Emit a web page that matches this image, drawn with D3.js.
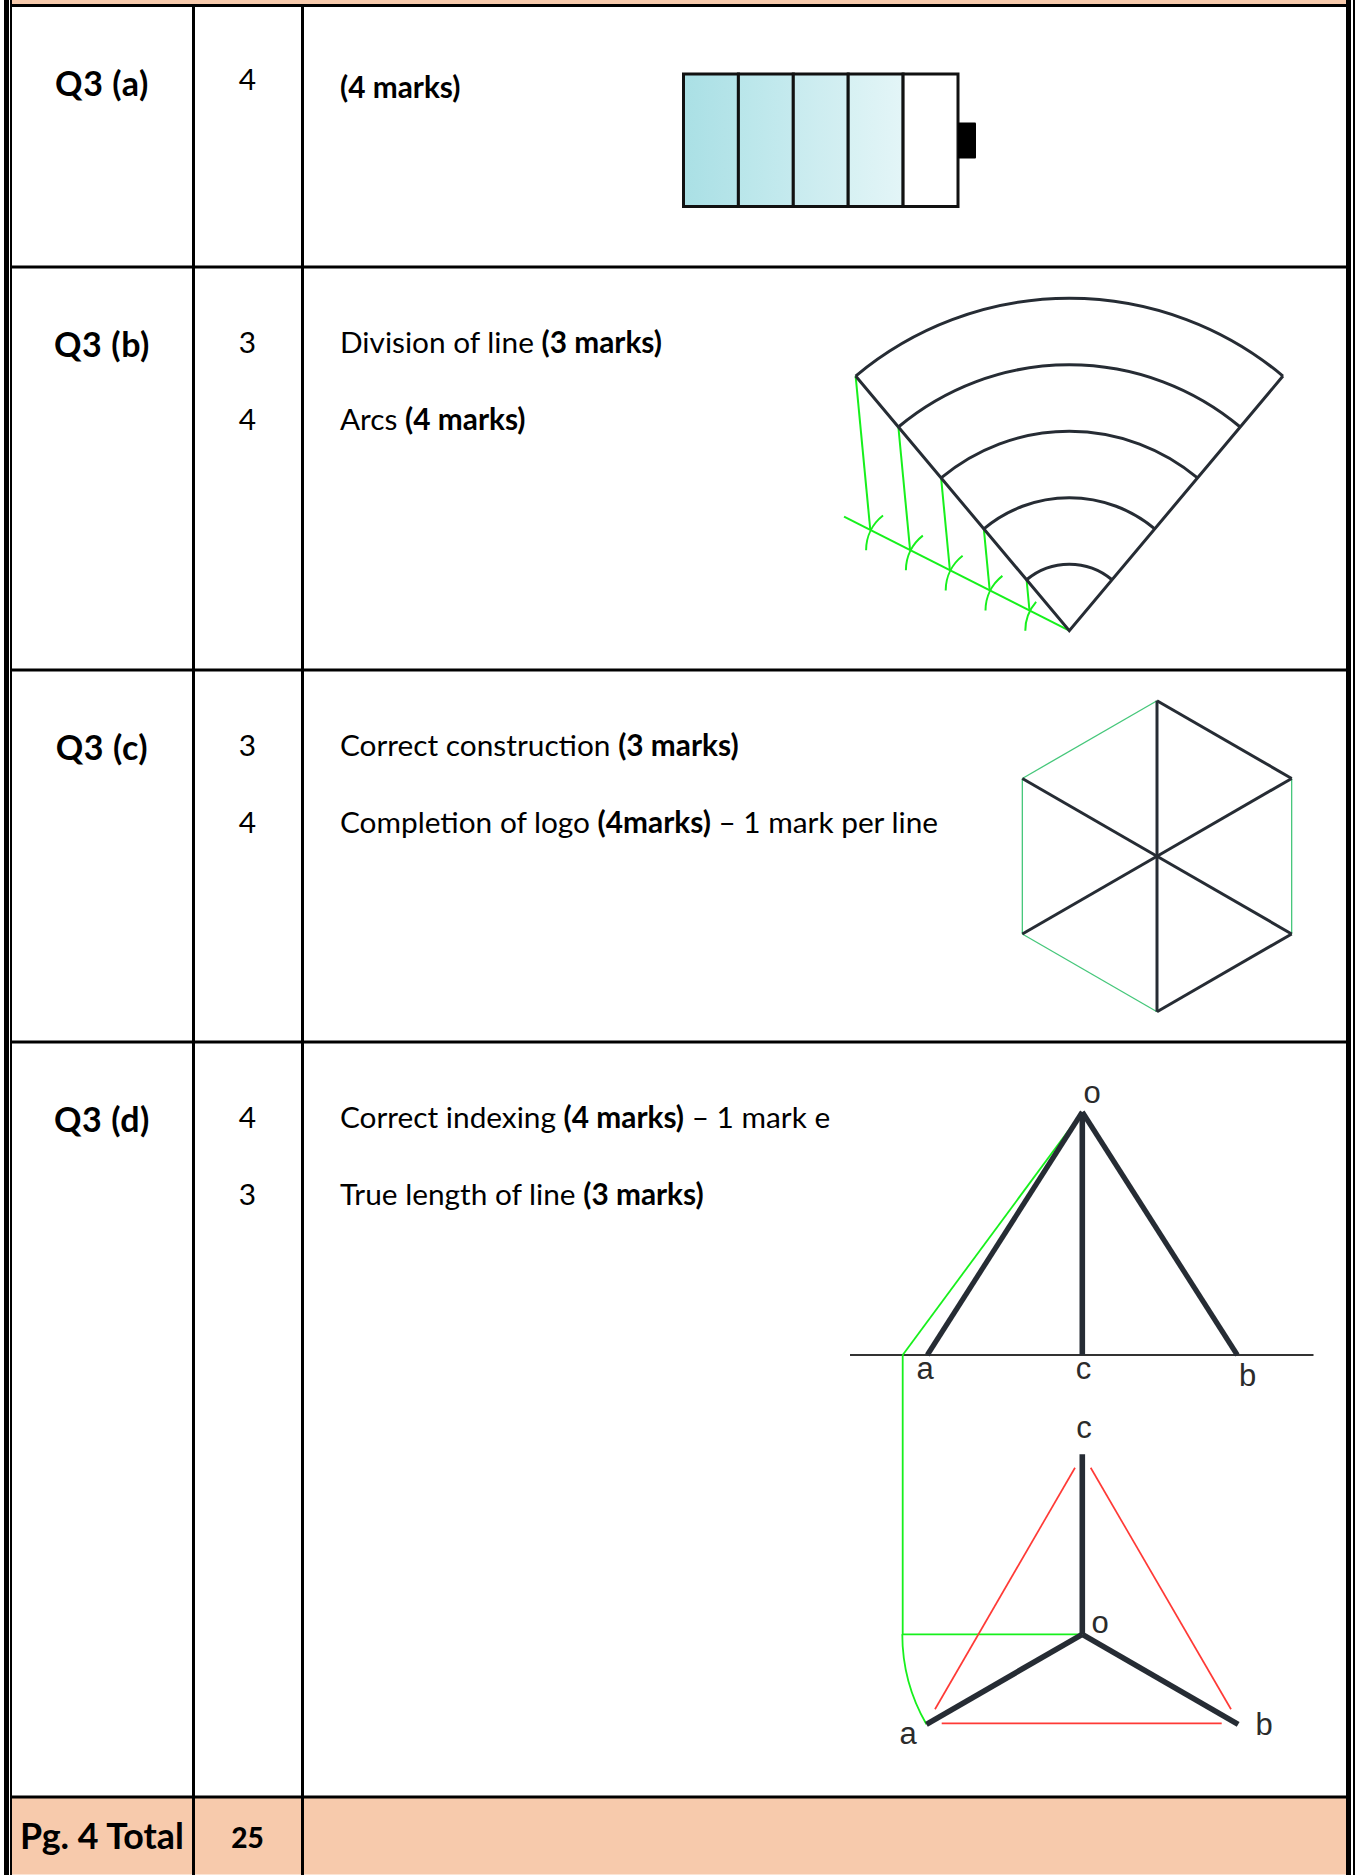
<!DOCTYPE html>
<html>
<head>
<meta charset="utf-8">
<script src="https://cdn.jsdelivr.net/npm/d3@7"></script>
<style>
  html, body { margin: 0; padding: 0; background: #fff; }
  svg { display: block; }
  text { font-family: Lato, "Open Sans", sans-serif; fill: #000; }
</style>
</head>
<body>
<svg id="sheet" width="1356" height="1875"></svg>
<script>
// table content
const questions = ["Q3 (a)", "Q3 (b)", "Q3 (c)", "Q3 (d)"];
const marks = [[4], [3, 4], [3, 4], [4, 3]];
const descriptions = [
  [[["(4 marks)", true]]],
  [[["Division of line ", false], ["(3 marks)", true]],
   [["Arcs ", false], ["(4 marks)", true]]],
  [[["Correct construction ", false], ["(3 marks)", true]],
   [["Completion of logo ", false], ["(4marks)", true], [" \u2013 1 mark per line", false]]],
  [[["Correct indexing ", false], ["(4 marks)", true], [" \u2013 1 mark e", false]],
   [["True length of line ", false], ["(3 marks)", true]]]
];
const totalLabel = "Pg. 4 Total";
const totalMarks = 25;

// diagram values
const batteryCells = [0, 1, 2, 3, 4];
const batteryCharged = 4;
const fanDivisions = [1, 2, 3, 4, 5];
const fanAngle = 40;
const compassEnds = [-49, -38, -38, -38, -38];
const hexAngles = [0, 60, 120, 180, 240, 300];
const hexDarkEdges = [[0, 60], [120, 180]];
const hexGreenEdges = [[60, 120], [180, 240], [240, 300], [300, 360]];
const elevationPoints = ["a", "c", "b"];
const elevationValues = [-155, 0, 155];
const planAngles = [0, 120, 240];
const labelsElevation = ["o", "a", "c", "b"];
const labelsPlan = ["c", "o", "a", "b"];

const svg = d3.select("#sheet");
const ink = "#262c34";
const green = "#17f01c";
const peach = "#f7caac";

// ---- table frame
const columnLines = [193.5, 302.5];
const rowLines = [5.5, 267, 670, 1042, 1797];
const rowFirstBaseline = [0, 352.5, 755.5, 1127.5];
const rowLabelBaseline = [95.5, 357, 760, 1132];
const lineGap = 77.5;

svg.append("rect").attr("x", 12).attr("y", 0).attr("width", 1334).attr("height", 4).attr("fill", peach);
svg.append("rect").attr("x", 12).attr("y", 1798).attr("width", 1334).attr("height", 76.5).attr("fill", peach);

svg.selectAll(".row-line")
  .data(rowLines)
  .enter()
  .append("line")
  .attr("x1", 10)
  .attr("x2", 1346)
  .attr("y1", (d) => d)
  .attr("y2", (d) => d)
  .attr("stroke", "#000")
  .attr("stroke-width", 3);

svg.selectAll(".col-line")
  .data(columnLines)
  .enter()
  .append("line")
  .attr("x1", (d) => d)
  .attr("x2", (d) => d)
  .attr("y1", 5)
  .attr("y2", 1875)
  .attr("stroke", "#000")
  .attr("stroke-width", 3);

// double outer border
[[4, 5], [10, 2], [1346, 5], [1353, 2]].forEach(([x, w]) => {
  svg.append("rect").attr("x", x).attr("y", 0).attr("width", w).attr("height", 1875).attr("fill", "#000");
});

// ---- table text
const labelSize = 34;
const bodySize = 29.8;

svg.selectAll(".question")
  .data(questions)
  .enter()
  .append("text")
  .attr("x", 102)
  .attr("y", (d, i) => rowLabelBaseline[i])
  .attr("text-anchor", "middle")
  .attr("font-size", labelSize)
  .attr("font-weight", 700)
  .attr("letter-spacing", 0.6)
  .text((d) => d);

marks.forEach((rowMarks, r) => {
  rowMarks.forEach((m, i) => {
    svg.append("text")
      .attr("x", 247.5)
      .attr("y", (r === 0 ? 90 : rowFirstBaseline[r]) + i * lineGap)
      .attr("text-anchor", "middle")
      .attr("font-size", bodySize)
      .text(m);
  });
});

descriptions.forEach((rowText, r) => {
  rowText.forEach((segments, i) => {
    const line = svg.append("text")
      .attr("x", 340)
      .attr("y", (r === 0 ? 97.5 : rowFirstBaseline[r]) + i * lineGap)
      .attr("font-size", bodySize)
      .style("white-space", "pre");
    segments.forEach(([txt, bold]) => {
      line.append("tspan").attr("font-weight", bold ? 700 : 400).text(txt);
    });
  });
});

svg.append("text").attr("x", 102).attr("y", 1849).attr("text-anchor", "middle")
  .attr("font-size", 35.8).attr("font-weight", 700).text(totalLabel);
svg.append("text").attr("x", 247.5).attr("y", 1848).attr("text-anchor", "middle")
  .attr("font-size", 28).attr("font-weight", 900).text(totalMarks);

// ---- battery
const batteryX = d3.scaleLinear().domain([0, batteryCells.length]).range([683.5, 958]);
const batteryTop = 74;
const batteryHeight = 132.5;
const chargeColor = d3.scaleLinear().domain([0, batteryCharged]).range(["#aae0e5", "#e6f6f8"]);

const cellGradients = svg.append("defs").selectAll("linearGradient")
  .data(batteryCells.filter((d) => d < batteryCharged))
  .enter()
  .append("linearGradient")
  .attr("id", (d) => `cell${d}`);
cellGradients.append("stop").attr("offset", 0).attr("stop-color", (d) => chargeColor(d));
cellGradients.append("stop").attr("offset", 1).attr("stop-color", (d) => chargeColor(d + 0.8));

svg.selectAll(".cell")
  .data(batteryCells)
  .enter()
  .append("rect")
  .attr("x", (d) => batteryX(d))
  .attr("y", batteryTop)
  .attr("width", batteryX(1) - batteryX(0))
  .attr("height", batteryHeight)
  .attr("fill", (d) => (d < batteryCharged ? `url(#cell${d})` : "#fff"))
  .attr("stroke", "#111")
  .attr("stroke-width", 3);

svg.append("rect")
  .attr("x", 958).attr("y", 122.5).attr("width", 18).attr("height", 36)
  .attr("rx", 1).attr("fill", "#000");

// ---- fan of arcs
const fanApex = [1069.3, 630.7];
const fanRadius = d3.scaleLinear().domain([0, 5]).range([0, 332.4]);
const rad = (deg) => (deg * Math.PI) / 180;
const fan = svg.append("g").attr("transform", `translate(${fanApex})`);

// points on the left edge of the fan and on the dividing line, in apex coordinates
const edgePoint = (d) => d3.pointRadial(rad(-fanAngle), fanRadius(d));
const dividePoint = d3.scaleLinear().domain([0, 5]);
const divideX = dividePoint.copy().range([0, -199]);
const divideY = dividePoint.copy().range([0, -100.7]);

fan.append("line")
  .attr("x1", 0).attr("y1", 0)
  .attr("x2", divideX(5.66)).attr("y2", divideY(5.66))
  .attr("stroke", green).attr("stroke-width", 2);

fan.selectAll(".projector")
  .data(fanDivisions)
  .enter()
  .append("line")
  .attr("x1", (d) => edgePoint(d)[0])
  .attr("y1", (d) => edgePoint(d)[1])
  .attr("x2", (d) => divideX(d))
  .attr("y2", (d) => divideY(d))
  .attr("stroke", green)
  .attr("stroke-width", 2);

const compass = d3.arc().innerRadius(44).outerRadius(44);
fan.selectAll(".compass")
  .data(fanDivisions)
  .enter()
  .append("path")
  .attr("transform", (d) => `translate(${divideX(d - 1)},${divideY(d - 1)})`)
  .attr("d", (d, i) => compass({ startAngle: rad(-90), endAngle: rad(compassEnds[i]) }))
  .attr("fill", "none")
  .attr("stroke", green)
  .attr("stroke-width", 2);

const ring = d3.arc().startAngle(rad(-fanAngle)).endAngle(rad(fanAngle));
fan.selectAll(".ring")
  .data(fanDivisions)
  .enter()
  .append("path")
  .attr("d", (d) => ring({ innerRadius: fanRadius(d), outerRadius: fanRadius(d) }))
  .attr("fill", "none")
  .attr("stroke", ink)
  .attr("stroke-width", 3);

fan.append("path")
  .attr("d", d3.line()([d3.pointRadial(rad(-fanAngle), fanRadius(5)), [0, 0], d3.pointRadial(rad(fanAngle), fanRadius(5))]))
  .attr("fill", "none")
  .attr("stroke", ink)
  .attr("stroke-width", 3);

// ---- hexagon logo
const hexR = d3.scaleLinear().domain([0, 1]).range([0, 155.5]);
const hex = svg.append("g").attr("transform", "translate(1157,856.2)");
const hexPoint = (deg, r) => d3.pointRadial(rad(deg), hexR(r));

hex.selectAll(".hex-green")
  .data(hexGreenEdges)
  .enter()
  .append("path")
  .attr("d", (d) => d3.line()([hexPoint(d[0], 1), hexPoint(d[1], 1)]))
  .attr("fill", "none")
  .attr("stroke", "#45c77a")
  .attr("stroke-width", 1.3);

hex.selectAll(".hex-dark")
  .data(hexDarkEdges)
  .enter()
  .append("path")
  .attr("d", (d) => d3.line()([hexPoint(d[0], 1), hexPoint(d[1], 1)]))
  .attr("fill", "none")
  .attr("stroke", ink)
  .attr("stroke-width", 3);

hex.selectAll(".spoke")
  .data(hexAngles)
  .enter()
  .append("line")
  .attr("x1", 0).attr("y1", 0)
  .attr("x2", (d) => hexPoint(d, 1)[0])
  .attr("y2", (d) => hexPoint(d, 1)[1])
  .attr("stroke", ink)
  .attr("stroke-width", 3);

// ---- isometric elevation and plan
const elevX = d3.scaleLinear().domain([-155, 155]).range([927.3, 1237.3]);
const groundY = 1355;
const apexY = 1112;
const projectionX = 902.7;
const centreX = elevX(0);
const planY = 1634.3;
const planR = 180;
const planPoint = (deg) => {
  const p = d3.pointRadial(rad(deg), planR);
  return [centreX + p[0], planY + p[1]];
};

svg.append("line")
  .attr("x1", 850).attr("x2", 1313.5).attr("y1", groundY).attr("y2", groundY)
  .attr("stroke", "#333").attr("stroke-width", 2);

// construction in green sits under the black lines
const construction = svg.append("g").attr("fill", "none").attr("stroke", green).attr("stroke-width", 1.8);
construction.append("path").attr("d", d3.line()([[projectionX, groundY], [centreX - 6, apexY + 8]]));
construction.append("path").attr("d", d3.line()([[projectionX, groundY], [projectionX, planY], [centreX, planY]]));
construction.append("path")
  .attr("transform", `translate(${centreX},${planY})`)
  .attr("d", d3.arc().innerRadius(planR).outerRadius(planR)({ startAngle: rad(240), endAngle: rad(270) }));

svg.selectAll(".elev-line")
  .data(elevationValues)
  .enter()
  .append("line")
  .attr("x1", centreX)
  .attr("y1", apexY)
  .attr("x2", (d) => elevX(d))
  .attr("y2", groundY)
  .attr("stroke", ink)
  .attr("stroke-width", (d, i) => (elevationPoints[i] === "c" ? 5.6 : 5.2));

// red true-shape triangle, inset from the plan ends
const redSegments = [
  [[1075, 1467.7], [935, 1709.3]],
  [[1090.7, 1467.7], [1231, 1709.3]],
  [[941.7, 1723.3], [1221.7, 1723.3]]
];
svg.selectAll(".red")
  .data(redSegments)
  .enter()
  .append("path")
  .attr("d", (d) => d3.line()(d))
  .attr("fill", "none")
  .attr("stroke", "#ff3a36")
  .attr("stroke-width", 1.7);

svg.selectAll(".plan-line")
  .data(planAngles)
  .enter()
  .append("line")
  .attr("x1", centreX)
  .attr("y1", planY)
  .attr("x2", (d) => planPoint(d)[0])
  .attr("y2", (d) => planPoint(d)[1])
  .attr("stroke", ink)
  .attr("stroke-width", 5.6);

// ---- point labels
const elevLabelPos = [[1092, 1103], [925, 1379], [1083.5, 1379], [1247.7, 1386]];
const planLabelPos = [[1084, 1437.5], [1100, 1632.5], [908, 1743.5], [1264, 1734.5]];
const pointLabel = (labels, pos) => {
  svg.append("g").selectAll("text")
    .data(labels)
    .enter()
    .append("text")
    .attr("x", (d, i) => pos[i][0])
    .attr("y", (d, i) => pos[i][1])
    .attr("text-anchor", "middle")
    .style("font-family", "'Liberation Sans', Arial, sans-serif")
    .style("fill", "#2b2b2b")
    .attr("font-size", 31)
    .text((d) => d);
};
pointLabel(labelsElevation, elevLabelPos);
pointLabel(labelsPlan, planLabelPos);
</script>
</body>
</html>
